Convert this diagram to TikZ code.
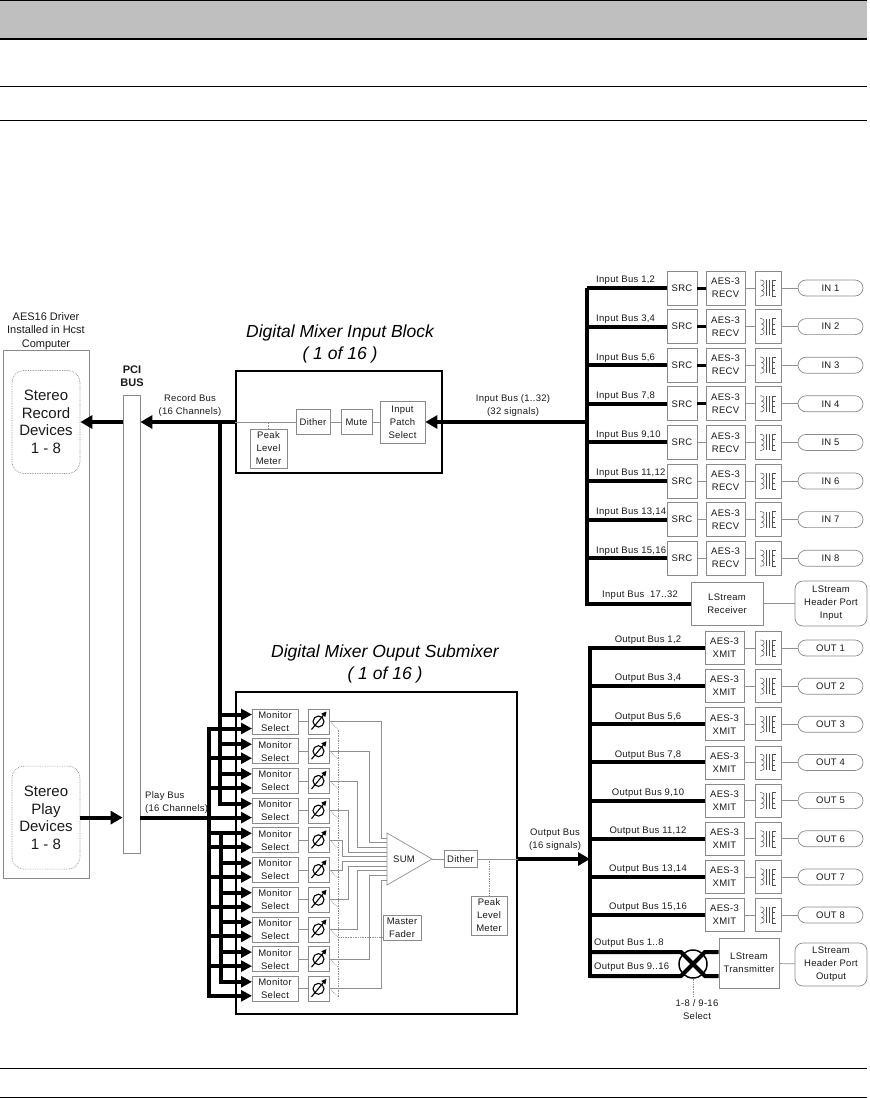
\documentclass[tikz,border=0pt]{standalone}
\usepackage{fontspec}
\setmainfont{Liberation Sans}
\newfontfamily\lblfont[LetterSpace=3]{Liberation Sans}
\usetikzlibrary{arrows.meta}
\definecolor{bandgray}{HTML}{BFBFBF}
\definecolor{boxgray}{HTML}{8A8A8A}
\definecolor{linegray}{HTML}{909090}
\definecolor{coilgray}{HTML}{505050}
\definecolor{txt}{HTML}{1A1A1A}
\begin{document}
\begin{tikzpicture}[x=1pt,y=-1pt,
  cbox/.style={draw=boxgray, line width=0.7pt, fill=white, inner sep=0pt, align=center, text=txt,
     font=\lblfont\fontsize{9.5}{13}\selectfont},
  pill/.style={cbox, rounded corners=8pt, minimum width=65pt, minimum height=16pt},
  thinln/.style={draw=linegray, line width=0.7pt},
  dotln/.style={draw=linegray, line width=0.7pt, densely dotted},
  bus/.style={draw=black, line width=4pt},
  busarrow/.style={bus, -{Triangle[length=12pt,width=13pt]}},
  inarrow/.style={bus, -{Triangle[length=11pt,width=11pt]}},
  lbl/.style={inner sep=0pt, align=center, text=txt, font=\lblfont\fontsize{9.5}{13}\selectfont},
  ttl/.style={inner sep=0pt, align=center, text=black, font=\fontsize{17.5}{22}\selectfont\itshape},
  bigbox/.style={draw=black, line width=1.8pt, inner sep=0pt},
  devbox/.style={draw=boxgray, densely dotted, line width=0.7pt, rounded corners=12pt, minimum width=68pt, minimum height=103pt, align=center, inner sep=0pt, text=txt, font=\fontsize{15}{17.5}\selectfont},
  rulel/.style={draw=black, line width=1pt},
  xfmr/.pic={
    \draw[line width=0.5pt, coilgray] (-1.5,-8) -- (-1.5,8) (1.5,-8) -- (1.5,8);
    \draw[line width=0.5pt, coilgray] (-8,-8) -- (-6.5,-8)
      arc[start angle=90,end angle=-90,radius=2.667pt]
      arc[start angle=90,end angle=-90,radius=2.667pt]
      arc[start angle=90,end angle=-90,radius=2.667pt] -- (-8,8);
    \draw[line width=0.5pt, coilgray] (8,-8) -- (4.5,-8) -- (4.5,8) -- (8,8);
    \draw[line width=0.5pt, coilgray] (4.5,-2.7) -- (6.5,-2.7) (4.5,2.7) -- (6.5,2.7);
  },
  fadersym/.pic={
    \draw[line width=1.1pt, black] (0,0) circle[radius=5.5pt];
    \draw[line width=1.1pt, black, -{Triangle[length=5pt,width=5pt]}] (-7,8) -- (8,-10);
  },
]
\useasboundingbox (0,0) rectangle (870,1098);
% ---------- header band and rules
\fill[bandgray] (0,0) rectangle (867,39);
\draw[rulel] (0,0.5) -- (867,0.5);
\draw[black, line width=1.5pt] (0,39) -- (867,39);
\draw[rulel] (0,86) -- (867,86);
\draw[rulel] (0,120) -- (867,120);
\draw[rulel] (0,1068) -- (867,1068);
\draw[rulel] (0,1097) -- (867,1097);

% ---------- host side
\node[draw=boxgray, line width=0.7pt, minimum width=86pt, minimum height=528pt, inner sep=0pt] (host) at (46,614) {};
\node[lbl, font=\fontsize{11}{13.5}\selectfont] (hostlbl) at (46,331) {AES16 Driver\\Installed in Hcst\\Computer};
\node[devbox] (rec) at (46,422) {Stereo\\Record\\Devices\\1 - 8};
\node[devbox] (play) at (46,817.6) {Stereo\\Play\\Devices\\1 - 8};
\node[draw=boxgray, line width=0.7pt, fill=white, minimum width=17pt, minimum height=458pt, inner sep=0pt] (pci) at (131.5,624) {};
\node[lbl, font=\bfseries\fontsize{11}{13}\selectfont] (pcilbl) at (132,376.5) {PCI\\BUS};

% ---------- input block
\node[ttl] (intitle) at (340,344) {Digital Mixer Input Block\\( 1 of 16 )};
\node[bigbox, minimum width=206pt, minimum height=102pt] (inblk) at (339,422) {};
\node[cbox, minimum width=34pt, minimum height=25pt] (ind) at (313,422) {Dither};
\node[cbox, minimum width=31pt, minimum height=25pt] (inm) at (356.5,422) {Mute};
\node[cbox, minimum width=45pt, minimum height=42pt] (ips) at (402.5,422) {Input\\Patch\\Select};
\node[cbox, minimum width=37pt, minimum height=39pt] (inpk) at (268.5,448.5) {Peak\\Level\\Meter};
\draw[thinln] (ind.west) -- (ind.west -| inblk.west);
\draw[thinln] (ind) -- (inm);
\draw[thinln] (inm) -- (ips);
\draw[dotln] (inpk.north) -- (inpk.north |- ind.west);

% record bus
\coordinate (busA) at (220,422);
\coordinate (busB) at (209,422);
\coordinate (busC) at (221,422);
\draw[busarrow] (ind.west -| inblk.west) -- (ind.west -| pci.east);
\draw[busarrow] (rec.east -| pci.west) -- (rec.east);
\node[lbl] (reclbl) at (190,406) {Record Bus\\(16 Channels)};

% input bus
\coordinate (ibus) at (587,422);
\draw[busarrow] (ibus) -- (ips.east);
\node[lbl] (inbuslbl) at (513,406) {Input Bus (1..32)\\(32 signals)};

% ---------- input rows
\foreach \i/\a/\b in {1/1/2,2/3/4,3/5/6,4/7/8,5/9/10,6/11/12,7/13/14,8/15/16}{
  \pgfmathsetmacro\yy{288+38.6*(\i-1)}
  \node[cbox, minimum width=30pt, minimum height=34pt] (src\i) at (682,\yy) {SRC};
  \node[cbox, minimum width=39pt, minimum height=34pt] (aesr\i) at (725.5,\yy) {AES-3\\RECV};
  \node[cbox, minimum width=26pt, minimum height=34pt] (trin\i) at (768,\yy) {};
  \pic at (trin\i) {xfmr};
  \node[pill] (inp\i) at (830.5,\yy) {IN \i};
  \draw[thinln] (aesr\i) -- (trin\i);
  \draw[thinln] (trin\i) -- (inp\i);
  \node[lbl, anchor=south west] (ibl\i) at (596,\yy-3) {Input Bus \a,\b};
  \draw[bus] (src\i.west) -- (src\i.west -| ibus);
}
\foreach \i in {1,2,3,4}{\draw[black, line width=3pt] (src\i) -- (aesr\i);}
\foreach \i in {5,6,7,8}{\draw[thinln] (src\i) -- (aesr\i);}
\node[cbox, minimum width=72pt, minimum height=43pt] (lsr) at (727,603.5) {LStream\\Receiver};
\node[cbox, rounded corners=8pt, minimum width=72pt, minimum height=45pt] (hpi) at (831,603.5) {LStream\\Header Port\\Input};
\draw[thinln] (lsr) -- (hpi);
\node[lbl, anchor=south west] (ibl9) at (602,600) {Input Bus \ 17..32};
\draw[bus, line join=miter] (src1.west -| ibus) -- (lsr.west -| ibus) -- (lsr.west);

% ---------- output submixer
\node[ttl] (mixtitle) at (385,664) {Digital Mixer Ouput Submixer\\( 1 of 16 )};
\node[bigbox, minimum width=281pt, minimum height=322pt] (mix) at (376.5,853) {};

\foreach \i in {1,...,10}{
  \pgfmathsetmacro\cy{721.5+29.7*(\i-1)}
  \node[cbox, minimum width=46pt, minimum height=25pt] (mon\i) at (275,\cy) {Monitor\\Select};
  \node[cbox, minimum width=21pt, minimum height=25pt] (fad\i) at (318.5,\cy) {};
  \pic at (fad\i) {fadersym};
  \draw[thinln] (mon\i) -- (fad\i);
  \draw[dotln] (331,\cy+1) -- (338,\cy+8);
  \coordinate (mta\i) at (252,\cy-7);
  \coordinate (mtb\i) at (252,\cy+7);
}
\draw[dotln] (338,729.5) -- (338,998);

% bus verticals
\draw[bus, line cap=rect] (busA) -- (mta4 -| busA);
\draw[bus, line cap=rect] (mtb1 -| busB) -- (mtb10 -| busB);
\draw[bus, line cap=rect] (mta6 -| busC) -- (mta10 -| busC);
\foreach \i in {1,2,3,4}{\draw[inarrow] (mta\i -| busA) -- (mta\i);}
\draw[inarrow] (mta5 -| busB) -- (mta5);
\draw[bus] (mta5 -| busC) -- (mta6 -| busC);
\foreach \i in {6,7,8,9,10}{\draw[inarrow] (mta\i -| busC) -- (mta\i);}
\foreach \i in {1,2,3,5,6,7,8,9,10}{\draw[inarrow] (mtb\i -| busB) -- (mtb\i);}
\draw[inarrow] (mtb4 -| pci.east) -- (mtb4);
\draw[busarrow] (play.east) -- (play.east -| pci.west);
\node[lbl, anchor=south west, align=left] (playlbl) at (145,814) {Play Bus\\(16 Channels)};

% SUM
\coordinate (sumt) at (387,833);
\coordinate (sumb) at (387,885);
\coordinate (sumapex) at (432,859);
\foreach \i/\tx in {1/381,2/369,3/357,4/348,5/342,6/342,7/348,8/357,9/369,10/381}{
  \pgfmathsetmacro\sy{838+42*(\i-1)/9}
  \draw[thinln] (fad\i.east) -| (\tx,\sy) -- (387,\sy);
}
\draw[thinln, fill=white] (sumt) -- (sumapex) -- (sumb) -- cycle;
\node[lbl] (sum) at (404,859) {SUM};

\node[cbox, minimum width=38pt, minimum height=25pt] (mf) at (402,927.5) {Master\\Fader};
\draw[dotln] ([yshift=3pt]mf.south west) -- ++(-45,0);

\node[cbox, minimum width=33pt, minimum height=17pt] (odith) at (460.5,859) {Dither};
\node[cbox, minimum width=36pt, minimum height=39pt] (opk) at (489,915.5) {Peak\\Level\\Meter};
\draw[thinln] (sumapex) -- (odith.west);
\draw[thinln] (odith.east) -- (odith.east -| mix.east);
\draw[dotln] (opk.north |- odith.east) -- (opk.north);

% output bus
\coordinate (obus) at (590,859);
\draw[busarrow] (odith.east -| mix.east) -- (obus);
\node[lbl] (obuslbl) at (555,840) {Output Bus\\(16 signals)};

% ---------- output rows
\foreach \j/\a/\b in {1/1/2,2/3/4,3/5/6,4/7/8,5/9/10,6/11/12,7/13/14,8/15/16}{
  \pgfmathsetmacro\yy{648+38.15*(\j-1)}
  \node[cbox, minimum width=39pt, minimum height=33pt] (xmit\j) at (724.5,\yy) {AES-3\\XMIT};
  \node[cbox, minimum width=26pt, minimum height=33pt] (trout\j) at (768,\yy) {};
  \pic at (trout\j) {xfmr};
  \node[pill] (outp\j) at (830.5,\yy) {OUT \j};
  \draw[thinln] (xmit\j) -- (trout\j);
  \draw[thinln] (trout\j) -- (outp\j);
  \node[lbl, anchor=south] (obl\j) at (648,\yy-3) {Output Bus \a,\b};
  \draw[bus] (xmit\j.west -| obus) -- (xmit\j.west);
}
\coordinate (obbot) at (590,976);
\draw[bus, line cap=rect] (xmit1.west -| obus) -- (obbot);

% LStream transmitter and select cross
\node[cbox, minimum width=60pt, minimum height=50pt] (lst) at (749,963) {LStream\\Transmitter};
\node[cbox, rounded corners=8pt, minimum width=72pt, minimum height=43pt] (hpo) at (831,964.5) {LStream\\Header Port\\Output};
\draw[thinln] (lst) -- (hpo);
\coordinate (xa) at (681,952);
\coordinate (xb) at (705,952);
\coordinate (xc) at (681,976);
\coordinate (xd) at (705,976);
\draw[bus] (xa -| obus) -- (xa) -- (xd) -- (xd -| lst.west);
\draw[bus] (obbot) -- (xc) -- (xb) -- (xb -| lst.west);
\node[draw=black, line width=1.5pt, circle, minimum size=28pt, inner sep=0pt] (xsel) at (693,964) {};
\coordinate (selend) at (693,996);
\draw[dotln] (xsel.south) -- (selend);
\node[lbl] (sellbl) at (697,1009.5) {1-8 / 9-16\\Select};
\node[lbl, anchor=south west] (obl9) at (594,948) {Output Bus 1..8};
\node[lbl, anchor=south west] (obl10) at (594,972) {Output Bus 9..16};
\end{tikzpicture}
\end{document}
